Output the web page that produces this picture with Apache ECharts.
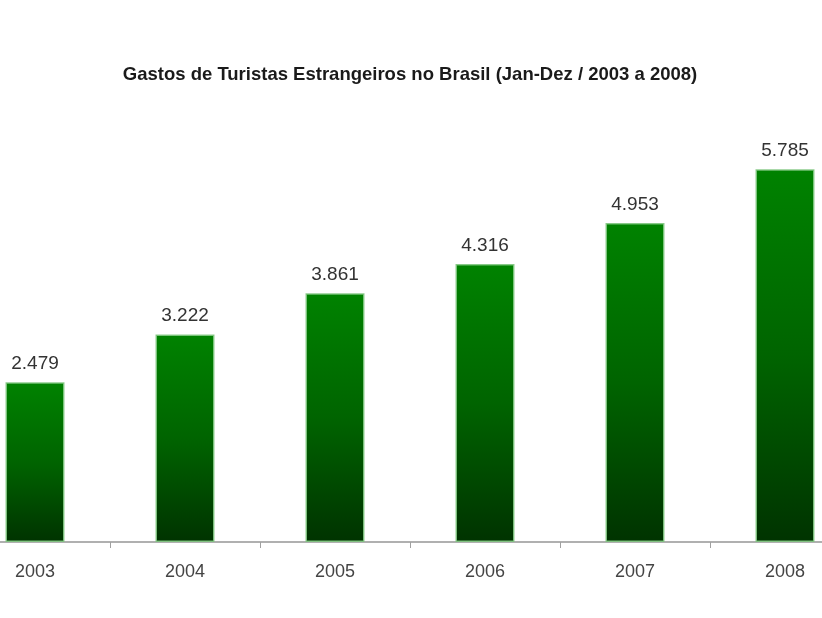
<!DOCTYPE html>
<html>
<head>
<meta charset="utf-8">
<script src="https://cdn.jsdelivr.net/npm/echarts@6/dist/echarts.min.js"></script>
<style>
html,body{margin:0;padding:0;background:#fff;overflow:hidden;width:822px;height:618px;}
#chart{width:900px;height:618px;margin-left:-40px;}
</style>
</head>
<body>
<div id="chart"></div>
<script>
const titleText = 'Gastos de Turistas Estrangeiros no Brasil (Jan-Dez / 2003 a 2008)';
const years = ['2003', '2004', '2005', '2006', '2007', '2008'];
const gastos = [2479, 3222, 3861, 4316, 4953, 5785];

function fmt(v) {
  const s = String(v);
  return s.replace(/\B(?=(\d{3})+(?!\d))/g, '.');
}

const chart = echarts.init(document.getElementById('chart'), null, {renderer: 'canvas'});
chart.setOption({
  backgroundColor: '#ffffff',
  animation: false,
  title: {
    text: titleText,
    left: 'center',
    top: 60,
    textStyle: {
      fontFamily: 'Liberation Sans, Arial, sans-serif',
      fontSize: 18.5,
      fontWeight: 'bold',
      color: '#1a1a1a'
    }
  },
  grid: {left: 0, right: 0, top: 91, bottom: 76, containLabel: false},
  xAxis: {
    type: 'category',
    data: years,
    boundaryGap: true,
    axisLine: {show: true, lineStyle: {color: '#b0b0b0', width: 2}},
    axisTick: {show: true, alignWithLabel: false, length: 6, lineStyle: {color: '#a0a0a0', width: 1}},
    axisLabel: {
      margin: 21,
      fontFamily: 'Liberation Sans, Arial, sans-serif',
      fontSize: 18,
      color: '#444'
    }
  },
  yAxis: {
    type: 'value',
    min: 0,
    max: 7000,
    show: false,
    splitLine: {show: false}
  },
  series: [{
    type: 'bar',
    data: gastos,
    barWidth: 59,
    itemStyle: {
      color: new echarts.graphic.LinearGradient(0, 0, 0, 1, [
        {offset: 0, color: '#008200'},
        {offset: 0.5, color: '#006400'},
        {offset: 1, color: '#003300'}
      ]),
      borderColor: 'rgba(130,200,130,0.9)',
      borderWidth: 1.5
    },
    label: {
      show: true,
      position: 'top',
      distance: 9,
      formatter: p => fmt(p.value),
      fontFamily: 'Liberation Sans, Arial, sans-serif',
      fontSize: 19,
      color: '#333'
    }
  }]
});
</script>
</body>
</html>
